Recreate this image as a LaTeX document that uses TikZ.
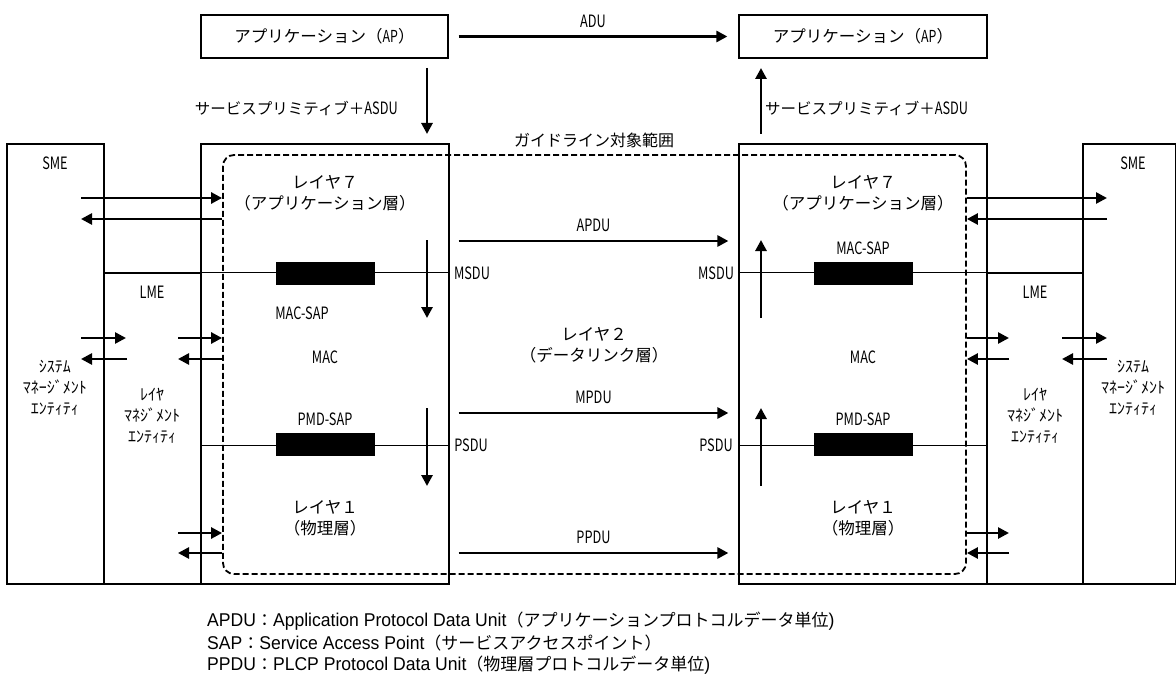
\documentclass[tikz,border=0pt]{standalone}
\usepackage{fontspec}
\setmainfont{Noto Sans CJK JP}
\newfontfamily\jp{Noto Sans CJK JP}
\newfontfamily\cond[FakeStretch=0.75]{Noto Sans CJK JP}
\newfontfamily\ar[FakeStretch=0.95]{Liberation Sans}
\usetikzlibrary{arrows.meta}
\begin{document}
\begin{tikzpicture}[x=1pt,y=-1pt,
  box/.style={draw, line width=1.2pt, inner sep=0pt},
  sapbar/.style={fill=black, draw=black, inner sep=0pt, minimum width=98pt, minimum height=22pt},
  sapline/.style={line width=0.9pt},
  bigarrow/.style={-{Triangle[length=11pt,width=11pt]}, line width=2.8pt},
  sidearrow/.style={-{Triangle[length=11pt,width=11pt]}, line width=2.6pt},
  ctxt/.style={font=\cond\fontsize{17}{20}\selectfont, inner sep=0pt},
  htxt/.style={font=\jp\fontsize{16.5}{21}\selectfont, inner sep=0pt, align=center},
  ktxt/.style={font=\jp\fontsize{16}{21}\selectfont, inner sep=0pt, align=center},
  foot/.style={font=\ar\fontsize{18.5}{22}\selectfont, inner sep=0pt, anchor=west}
]
\useasboundingbox (0,0) rectangle (1176,682);

% top application boxes
\node[box, minimum width=247pt, minimum height=43pt, font=\jp\fontsize{16.5}{18}\selectfont] (apL) at (324.5,36.5) {アプリケーション（{\cond AP}）};
\node[box, minimum width=248pt, minimum height=43pt, font=\jp\fontsize{16.5}{18}\selectfont] (apR) at (863,36.5) {アプリケーション（{\cond AP}）};
\draw[bigarrow] ([xshift=10pt]apL.east) -- ([xshift=-11pt]apR.west) node[midway, above=7pt, ctxt] (adu) {ADU};

% main boxes
\node[box, minimum width=97pt, minimum height=440pt] (smeL) at (55.5,364) {};
\node[box, minimum width=97pt, minimum height=311pt] (lmeL) at (152.5,428.5) {};
\node[box, minimum width=248pt, minimum height=440pt] (mainL) at (325,364) {};
\node[box, minimum width=248pt, minimum height=440pt] (mainR) at (863,364) {};
\node[box, minimum width=96pt, minimum height=311pt] (lmeR) at (1035,428.5) {};
\node[box, minimum width=93pt, minimum height=440pt] (smeR) at (1129.5,364) {};

% vertical arrows between AP and stacks
\coordinate (dA) at (427,68);
\coordinate (dB) at (427,134);
\coordinate (uA) at (761,134);
\coordinate (uB) at (761,68);
\draw[bigarrow] (dA) -- (dB);
\draw[bigarrow] (uA) -- (uB);
\node[font=\jp\fontsize{15.5}{18}\selectfont, inner sep=0pt, anchor=east] (spL) at (398,108) {サービスプリミティブ＋{\cond\fontsize{17}{18}\selectfont ASDU}};
\node[font=\jp\fontsize{15.5}{18}\selectfont, inner sep=0pt, anchor=west] (spR) at (765,108) {サービスプリミティブ＋{\cond\fontsize{17}{18}\selectfont ASDU}};
\node[font=\jp\fontsize{16}{18}\selectfont, inner sep=0pt] (gl) at (594,140) {ガイドライン対象範囲};

% SAP lines and bars
\draw[sapline] (lmeL.north east) -- (mainL.east |- lmeL.north);
\draw[sapline] (mainR.west |- lmeR.north) -- (lmeR.north west);
\coordinate (psL) at (201,445);
\coordinate (psLe) at (449,445);
\coordinate (psR) at (739,445);
\coordinate (psRe) at (987,445);
\draw[sapline] (psL) -- (psLe);
\draw[sapline] (psR) -- (psRe);
\node[sapbar] (macL) at (325,273) {};
\node[sapbar] (pmdL) at (325,444.5) {};
\node[sapbar] (macR) at (863,273) {};
\node[sapbar] (pmdR) at (863,444.5) {};

% guideline scope (dashed)
\node[draw, line width=1.8pt, dash pattern=on 6pt off 3pt, rounded corners=11pt, minimum width=743pt, minimum height=419pt, inner sep=0pt] (guide) at (594.5,364.5) {};

% texts left stack
\node[htxt] (l7L) at (325,193) {レイヤ７\\（アプリケーション層）};
\node[ctxt] (msapL) at (302,313) {MAC-SAP};
\node[ctxt] (macLt) at (325,357) {MAC};
\node[ctxt] (psapL) at (325,419) {PMD-SAP};
\node[htxt] (l1L) at (325,518) {レイヤ１\\（物理層）};
% texts right stack
\node[htxt] (l7R) at (863,193) {レイヤ７\\（アプリケーション層）};
\node[ctxt] (msapR) at (863,248) {MAC-SAP};
\node[ctxt] (macRt) at (863,357) {MAC};
\node[ctxt] (psapR) at (863,419) {PMD-SAP};
\node[htxt] (l1R) at (863,518) {レイヤ１\\（物理層）};
% middle
\node[htxt] (l2) at (594,345) {レイヤ２\\（データリンク層）};
\node[ctxt] (msduL) at (472,273) {MSDU};
\node[ctxt] (msduR) at (716,273) {MSDU};
\node[ctxt] (psduL) at (471,445) {PSDU};
\node[ctxt] (psduR) at (716,445) {PSDU};

% SME / LME texts
\node[ctxt] (smeLt) at (55,163) {SME};
\node[ctxt] (lmeLt) at (152,292) {LME};
\node[ctxt] (smeRt) at (1133,163) {SME};
\node[ctxt] (lmeRt) at (1035,292) {LME};
\node[ktxt] (sysL) at (55,388) {ｼｽﾃﾑ\\ﾏﾈｰｼﾞﾒﾝﾄ\\ｴﾝﾃｨﾃｨ};
\node[ktxt] (layL) at (152,416) {ﾚｲﾔ\\ﾏﾈｼﾞﾒﾝﾄ\\ｴﾝﾃｨﾃｨ};
\node[ktxt] (sysR) at (1133,388) {ｼｽﾃﾑ\\ﾏﾈｰｼﾞﾒﾝﾄ\\ｴﾝﾃｨﾃｨ};
\node[ktxt] (layR) at (1035,416) {ﾚｲﾔ\\ﾏﾈｼﾞﾒﾝﾄ\\ｴﾝﾃｨﾃｨ};

% protocol data unit arrows
\draw[bigarrow] ([xshift=9pt]mainL.east |- 0,241) -- ([xshift=-10pt]mainR.west |- 0,241) node[midway, above=8pt, ctxt] (apdu) {APDU};
\draw[bigarrow] ([xshift=9pt]mainL.east |- 0,413) -- ([xshift=-10pt]mainR.west |- 0,413) node[midway, above=8pt, ctxt] (mpdu) {MPDU};
\draw[bigarrow] ([xshift=9pt]mainL.east |- 0,553) -- ([xshift=-10pt]mainR.west |- 0,553) node[midway, above=8pt, ctxt] (ppdu) {PPDU};

% vertical arrows inside stacks
\coordinate (v1a) at (427,240); \coordinate (v1b) at (427,318);
\coordinate (v2a) at (427,408); \coordinate (v2b) at (427,486);
\coordinate (v3a) at (761,318); \coordinate (v3b) at (761,240);
\coordinate (v4a) at (761,486); \coordinate (v4b) at (761,408);
\draw[bigarrow] (v1a) -- (v1b);
\draw[bigarrow] (v2a) -- (v2b);
\draw[bigarrow] (v3a) -- (v3b);
\draw[bigarrow] (v4a) -- (v4b);

% side arrows left
\coordinate (sl1) at (81,198);  \coordinate (sl2) at (81,219);
\coordinate (sl3) at (81,338);  \coordinate (sl4) at (126,338);
\coordinate (sl5) at (81,359);  \coordinate (sl6) at (127,359);
\coordinate (ll1) at (178,338); \coordinate (ll2) at (178,359);
\coordinate (ll3) at (178,533); \coordinate (ll4) at (178,553);
\draw[sidearrow] (sl1) -- (guide.west |- sl1);
\draw[sidearrow] (guide.west |- sl2) -- (sl2);
\draw[sidearrow] (sl3) -- (sl4);
\draw[sidearrow] (sl6) -- (sl5);
\draw[sidearrow] (ll1) -- (guide.west |- ll1);
\draw[sidearrow] (guide.west |- ll2) -- (ll2);
\draw[sidearrow] (ll3) -- (guide.west |- ll3);
\draw[sidearrow] (guide.west |- ll4) -- (ll4);

% side arrows right
\coordinate (sr1) at (1107,198); \coordinate (sr2) at (1107,219);
\coordinate (sr3) at (1062,338); \coordinate (sr4) at (1107,338);
\coordinate (sr5) at (1062,359); \coordinate (sr6) at (1107,359);
\coordinate (lr1) at (1009,338); \coordinate (lr2) at (1009,359);
\coordinate (lr3) at (1009,533); \coordinate (lr4) at (1009,553);
\draw[sidearrow] (guide.east |- sr1) -- (sr1);
\draw[sidearrow] (sr2) -- (guide.east |- sr2);
\draw[sidearrow] (sr3) -- (sr4);
\draw[sidearrow] (sr6) -- (sr5);
\draw[sidearrow] (guide.east |- lr1) -- (lr1);
\draw[sidearrow] (lr2) -- (guide.east |- lr2);
\draw[sidearrow] (guide.east |- lr3) -- (lr3);
\draw[sidearrow] (lr4) -- (guide.east |- lr4);

% footnotes
\node[foot] (f1) at (207,621) {APDU{\jp\fontsize{17}{18}\selectfont ：}Application Protocol Data Unit{\jp\fontsize{17}{18}\selectfont （アプリケーションプロトコルデータ単位}{)}};
\node[foot] (f2) at (207,643) {SAP{\jp\fontsize{17}{18}\selectfont ：}Service Access Point{\jp\fontsize{17}{18}\selectfont （サービスアクセスポイント）}};
\node[foot] (f3) at (207,665) {PPDU{\jp\fontsize{17}{18}\selectfont ：}PLCP Protocol Data Unit{\jp\fontsize{17}{18}\selectfont （物理層プロトコルデータ単位}{)}};
\end{tikzpicture}
\end{document}
